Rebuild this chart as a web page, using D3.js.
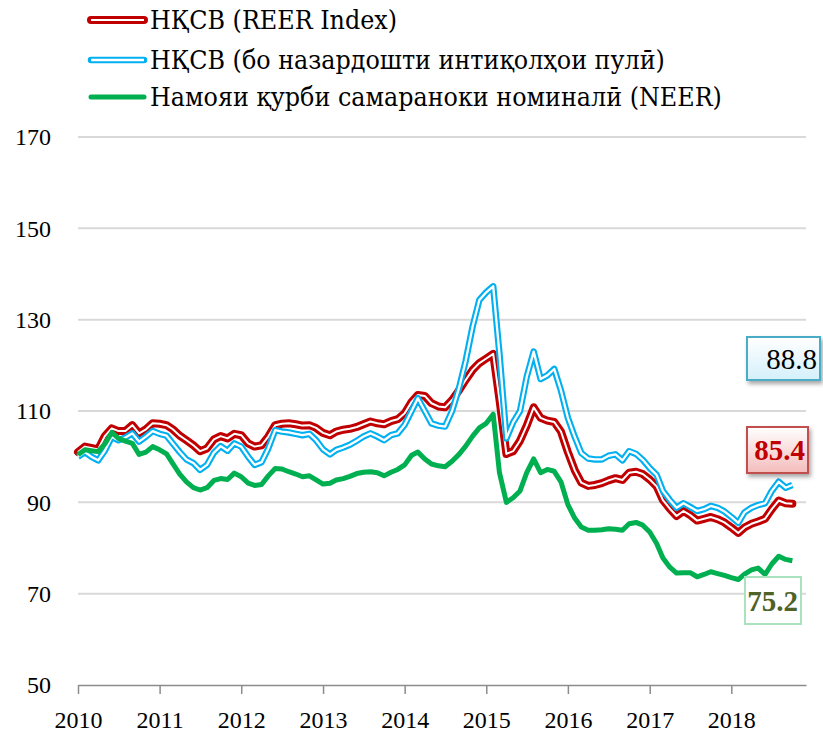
<!DOCTYPE html>
<html>
<head>
<meta charset="utf-8">
<script src="https://cdn.jsdelivr.net/npm/d3@7"></script>
<style>
  body { margin: 0; background: #fff; }
  svg { display: block; }
  text { font-family: "Liberation Serif", serif; }
</style>
</head>
<body>
<div id="chart"></div>
<script>
// monthly series, Jan 2010 .. Oct 2018
const startMonth = new Date(2010, 0, 1);

const reer = [
  101.0, 102.2, 101.9, 101.6, 104.5, 106.2, 105.6, 105.6, 106.9, 105.1, 106.0, 107.3,
  107.2, 106.9, 106.0, 104.6, 103.6, 102.5, 101.2, 101.8, 103.8, 104.5, 104.0, 105.0,
  104.7, 102.9, 102.2, 102.5, 104.4, 106.9, 107.2, 107.3, 107.1, 106.8, 106.9, 106.3,
  105.2, 104.7, 105.5, 105.9, 106.1, 106.5, 107.1, 107.7, 107.3, 107.1, 107.8, 108.2,
  109.5, 112.0, 113.5, 113.3, 111.7, 111.0, 110.8, 112.4, 114.5, 116.8, 119.0, 120.5,
  121.5, 122.5, 112.5, 100.6, 101.2, 103.5, 106.8, 110.8, 108.5, 107.9, 107.6, 105.5,
  101.0, 97.0, 94.3, 93.6, 93.8, 94.2, 94.8, 95.3, 94.9, 96.5, 96.7, 96.2,
  95.0, 93.5, 90.5, 88.6, 87.0, 88.1, 87.2, 86.0, 86.4, 86.8, 86.3, 85.6,
  84.5, 83.3, 84.5, 85.3, 85.8, 86.4, 88.5, 90.4, 89.8, 89.7
];

const reerRemit = [
  100.0, 101.0, 100.0, 99.2, 101.3, 104.3, 103.6, 104.2, 105.1, 103.3, 104.4, 105.6,
  105.0, 104.6, 102.9, 101.0, 99.4, 98.6, 97.1, 98.2, 100.9, 102.3, 101.3, 102.9,
  102.2, 100.0, 98.2, 98.8, 101.8, 105.8, 105.5, 105.3, 105.0, 104.7, 105.0, 103.6,
  101.6, 100.5, 101.5, 102.0, 102.6, 103.5, 104.4, 105.1, 104.4, 103.6, 104.7, 105.1,
  107.0, 110.0, 112.8, 110.0, 107.3, 106.8, 106.6, 110.0, 115.0, 121.0, 128.5, 134.3,
  136.0, 137.3, 122.5, 104.0, 107.5, 110.0, 117.5, 123.0, 117.0, 117.8, 119.2, 114.5,
  108.5, 104.3, 100.8, 99.6, 99.4, 99.4, 100.2, 100.5, 99.2, 101.2, 100.6, 99.3,
  97.5, 96.0, 92.5, 90.5, 88.8, 89.8, 89.0, 88.1, 88.5, 89.2, 88.8, 88.0,
  86.8, 85.5, 87.8, 88.8, 89.4, 89.8, 92.5, 94.5, 93.2, 93.8
];

const neer = [
  100.4, 101.5, 101.3, 101.1, 102.8, 105.3, 104.0, 103.4, 102.9, 100.5, 101.0, 102.2,
  101.5, 100.6, 98.5, 96.2, 94.5, 93.2, 92.7, 93.2, 94.8, 95.2, 95.0, 96.4,
  95.6, 94.2, 93.7, 93.9, 95.8, 97.4, 97.3, 96.7, 96.2, 95.6, 95.8, 94.9,
  94.0, 94.2, 94.9, 95.2, 95.7, 96.3, 96.6, 96.7, 96.5, 95.8, 96.6, 97.2,
  98.2, 100.3, 101.0, 99.5, 98.4, 98.0, 97.8, 99.0, 100.5, 102.3, 104.5, 106.3,
  107.3, 109.3, 96.5, 90.0, 91.0, 92.5, 96.5, 99.5, 96.5, 97.2, 96.8, 94.5,
  89.5, 86.5, 84.6, 83.9, 83.9, 84.0, 84.2, 84.1, 83.9, 85.3, 85.6, 85.0,
  83.5, 81.0, 77.8, 75.8, 74.5, 74.6, 74.6, 73.7, 74.2, 74.8, 74.4, 74.0,
  73.5, 73.1, 74.3, 75.2, 75.6, 74.2, 76.5, 78.2, 77.5, 77.2
];

const seriesNames = [
  "НҚСВ (REER Index)",
  "НҚСВ (бо назардошти интиқолҳои пулӣ)",
  "Намояи қурби самараноки номиналӣ (NEER)"
];
const yTicks = [50, 70, 90, 110, 130, 150, 170];
const yearTicks = [2010, 2011, 2012, 2013, 2014, 2015, 2016, 2017, 2018];
const endLabels = ["88.8", "85.4", "75.2"];

const width = 823, height = 734;
const months = reer.map((d, i) => d3.timeMonth.offset(startMonth, i));

const svg = d3.select("#chart").append("svg")
  .attr("width", width)
  .attr("height", height);

const defs = svg.append("defs");
const shadow = defs.append("filter").attr("id", "shadow")
  .attr("x", "-20%").attr("y", "-20%").attr("width", "150%").attr("height", "160%");
shadow.append("feDropShadow")
  .attr("dx", 2).attr("dy", 3).attr("stdDeviation", 2)
  .attr("flood-color", "#000").attr("flood-opacity", 0.35);

const gradBlue = defs.append("linearGradient").attr("id", "gradBlue")
  .attr("x1", 0).attr("y1", 0).attr("x2", 0).attr("y2", 1);
gradBlue.append("stop").attr("offset", "0%").attr("stop-color", "#ffffff");
gradBlue.append("stop").attr("offset", "100%").attr("stop-color", "#d4f0fb");

const gradRed = defs.append("linearGradient").attr("id", "gradRed")
  .attr("x1", 0).attr("y1", 0).attr("x2", 0).attr("y2", 1);
gradRed.append("stop").attr("offset", "0%").attr("stop-color", "#ffffff");
gradRed.append("stop").attr("offset", "100%").attr("stop-color", "#f4bcbc");

// scales
const x = d3.scaleTime()
  .domain([new Date(2010, 0, 1), new Date(2018, 11, 1)])
  .range([78, 806]);

const y = d3.scaleLinear()
  .domain([50, 170])
  .range([685, 137]);

// gridlines
svg.append("g")
  .selectAll("line")
  .data(yTicks.filter(d => d > 50))
  .join("line")
  .attr("x1", x.range()[0])
  .attr("x2", x.range()[1])
  .attr("y1", d => y(d))
  .attr("y2", d => y(d))
  .attr("stroke", "#d9d9d9")
  .attr("stroke-width", 2);

// y axis labels
const yAxis = d3.axisLeft(y).tickValues(yTicks).tickSize(0).tickPadding(0);
svg.append("g")
  .attr("transform", "translate(51,0)")
  .call(yAxis)
  .call(g => g.select(".domain").remove())
  .selectAll("text")
  .attr("font-family", "Liberation Serif, serif")
  .attr("font-size", 24)
  .attr("fill", "#000");

// x axis
const xAxis = d3.axisBottom(x)
  .tickValues(yearTicks.map(yr => new Date(yr, 0, 1)))
  .tickFormat(d3.timeFormat("%Y"))
  .tickSize(9)
  .tickSizeOuter(0)
  .tickPadding(17);

svg.append("g")
  .attr("transform", `translate(0, ${y(50)})`)
  .call(xAxis)
  .call(g => g.select(".domain").attr("stroke", "#8c8c8c").attr("stroke-width", 1.5))
  .call(g => g.selectAll(".tick line").attr("stroke", "#8c8c8c").attr("stroke-width", 1.5))
  .selectAll("text")
  .attr("font-family", "Liberation Serif, serif")
  .attr("font-size", 24)
  .attr("fill", "#000");

// lines
const line = d3.line()
  .x((d, i) => x(months[i]))
  .y(d => y(d));

const plot = svg.append("g").attr("fill", "none")
  .attr("stroke-linejoin", "round");

// REER: dark red double line
plot.append("path").datum(reer)
  .attr("d", line)
  .attr("stroke", "#c00000")
  .attr("stroke-width", 8)
  .attr("stroke-linecap", "round");
plot.append("path").datum(reer)
  .attr("d", line)
  .attr("stroke", "#fff")
  .attr("stroke-width", 2);

// REER with remittances: light blue double line
plot.append("path").datum(reerRemit)
  .attr("d", line)
  .attr("stroke", "#00b0f0")
  .attr("stroke-width", 6.5);
plot.append("path").datum(reerRemit)
  .attr("d", line)
  .attr("stroke", "#fff")
  .attr("stroke-width", 2.3);

// NEER: solid green
plot.append("path").datum(neer)
  .attr("d", line)
  .attr("stroke", "#00b050")
  .attr("stroke-width", 5);

// legend
const legend = svg.append("g");
const legendRows = [
  { name: seriesNames[0], y: 20, color: "#c00000", w: 8, inner: 2 },
  { name: seriesNames[1], y: 60, color: "#00b0f0", w: 6.5, inner: 2.3 },
  { name: seriesNames[2], y: 97, color: "#00b050", w: 5, inner: 0 }
];
legendRows.forEach(r => {
  legend.append("line")
    .attr("x1", 91).attr("x2", 144)
    .attr("y1", r.y).attr("y2", r.y)
    .attr("stroke", r.color)
    .attr("stroke-width", r.w)
    .attr("stroke-linecap", "round");
  if (r.inner > 0) {
    legend.append("line")
      .attr("x1", 91).attr("x2", 144)
      .attr("y1", r.y).attr("y2", r.y)
      .attr("stroke", "#fff")
      .attr("stroke-width", r.inner);
  }
  legend.append("text")
    .attr("x", 150)
    .attr("y", r.y + 9)
    .style("font-family", "'DejaVu Serif Condensed', 'DejaVu Serif', serif")
    .style("font-stretch", "condensed")
    .attr("font-size", 26.5)
    .attr("fill", "#000")
    .text(r.name);
});

// end value labels
const labelBoxes = [
  { text: endLabels[0], x: 747, y: 337, w: 73, h: 43, fill: "url(#gradBlue)", stroke: "#4bacc6", color: "#000", weight: "normal" },
  { text: endLabels[1], x: 747, y: 427, w: 61, h: 46, fill: "url(#gradRed)", stroke: "#c0504d", color: "#c00000", weight: "bold" },
  { text: endLabels[2], x: 745, y: 577, w: 56, h: 47, fill: "#ffffff", stroke: "#a8e2bf", color: "#4f6228", weight: "bold" }
];
const lbl = svg.append("g");
labelBoxes.forEach((b, i) => {
  lbl.append("rect")
    .attr("x", b.x).attr("y", b.y)
    .attr("width", b.w).attr("height", b.h)
    .attr("fill", b.fill)
    .attr("stroke", b.stroke)
    .attr("stroke-width", 2)
    .attr("filter", i < 2 ? "url(#shadow)" : null);
  lbl.append("text")
    .attr("x", b.x + b.w - 3)
    .attr("y", b.y + b.h / 2 + 10)
    .attr("text-anchor", "end")
    .attr("font-family", "Liberation Serif, serif")
    .attr("font-size", 29)
    .attr("font-weight", b.weight)
    .attr("fill", b.color)
    .text(b.text);
});
</script>
</body>
</html>
